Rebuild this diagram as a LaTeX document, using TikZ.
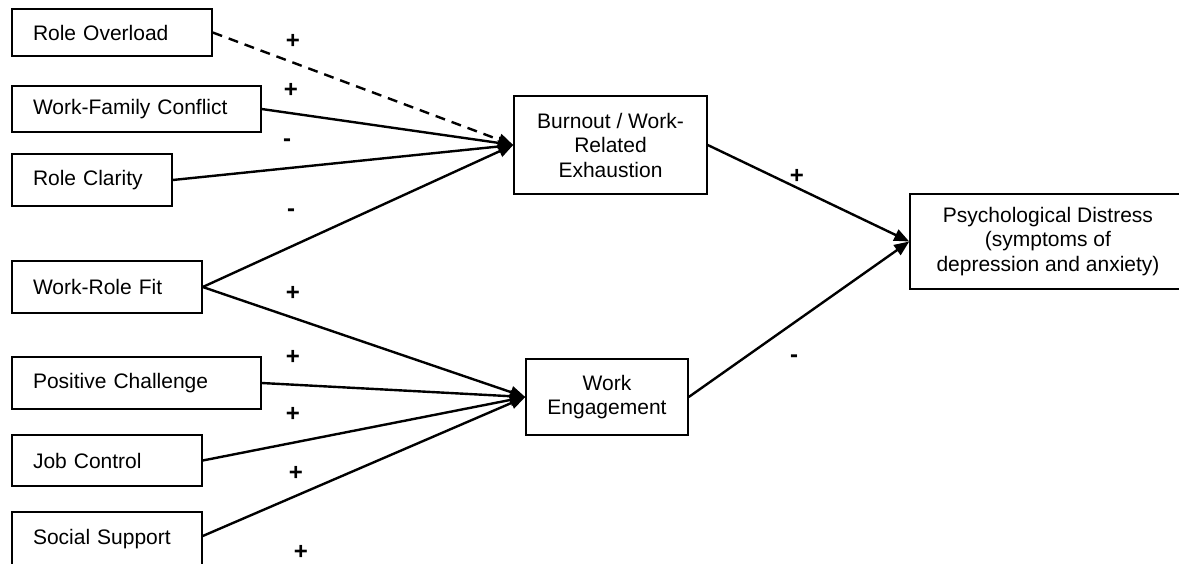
\documentclass[tikz,border=0pt]{standalone}
\usepackage{fontspec}
\setmainfont{Liberation Sans}
\usetikzlibrary{arrows.meta}
\begin{document}
\begin{tikzpicture}[x=1pt,y=-1pt,
  box/.style={draw, line width=1.5pt, inner sep=0pt, font=\fontsize{21}{24.5}\selectfont},
  lbox/.style={box, align=left, inner xsep=21pt},
  cbox/.style={box, align=center},
  arr/.style={line width=2.4pt, -{Triangle[length=15pt,width=12pt]}},
  dasharr/.style={arr, dash pattern=on 10pt off 7pt},
  sign/.style={font=\fontsize{24}{26}\selectfont\bfseries, inner sep=0pt}]
\useasboundingbox (0,0) rectangle (1179,563);
\fill[white] (0,0) rectangle (1179,563);
\clip (0,0) rectangle (1179,563);
% left boxes
\node[lbox, text width=158pt, minimum height=47pt] (ro)  at (112,32.5)  {Role Overload};
\node[lbox, text width=207pt, minimum height=46pt] (wfc) at (136.5,109) {Work-Family Conflict};
\node[lbox, text width=118pt, minimum height=52pt] (rc)  at (92,180)    {Role Clarity};
\node[lbox, text width=148pt, minimum height=52pt] (wrf) at (107,287)   {Work-Role Fit};
\node[lbox, text width=207pt, minimum height=52pt] (pc)  at (136.5,383) {Positive Challenge};
\node[lbox, text width=148pt, minimum height=51pt] (jc)  at (107,460.5) {Job Control};
\node[lbox, text width=148pt, minimum height=54pt] (ss)  at (107,539)   {Social Support};
% middle and right boxes
\node[cbox, minimum width=193pt, minimum height=98pt] (bo) at (610.5,145) {Burnout / Work-\\Related\\Exhaustion};
\node[cbox, minimum width=162pt, minimum height=76pt] (we) at (607,397) {Work\\Engagement};
\node[cbox, minimum width=276pt, minimum height=95pt] (pd) at (1048,241.5) {Psychological Distress\\(symptoms of\\depression and anxiety)};
% connectors
\draw[dasharr] (ro.east) -- (bo.west);
\draw[arr] (wfc.east) -- (bo.west);
\draw[arr] (rc.east) -- (bo.west);
\draw[arr] (wrf.east) -- (bo.west);
\draw[arr] (wrf.east) -- (we.west);
\draw[arr] (pc.east) -- (we.west);
\draw[arr] (jc.east) -- (we.west);
\draw[arr] ([yshift=3pt]ss.east) -- (we.west);
\draw[arr] (bo.east) -- (pd.west);
\draw[arr] (we.east) -- (pd.west);
% signs
\node[sign] (s1) at (293,41) {+};
\node[sign] (s2) at (291,90) {+};
\node[sign] (s3) at (287,143) {-};
\node[sign] (s4) at (291,213) {-};
\node[sign] (s5) at (293,293) {+};
\node[sign] (s6) at (293,357) {+};
\node[sign] (s7) at (293,414) {+};
\node[sign] (s8) at (296,473) {+};
\node[sign] (s9) at (301,552) {+};
\node[sign] (s10) at (797,176) {+};
\node[sign] (s11) at (794,359) {-};
\end{tikzpicture}
\end{document}
